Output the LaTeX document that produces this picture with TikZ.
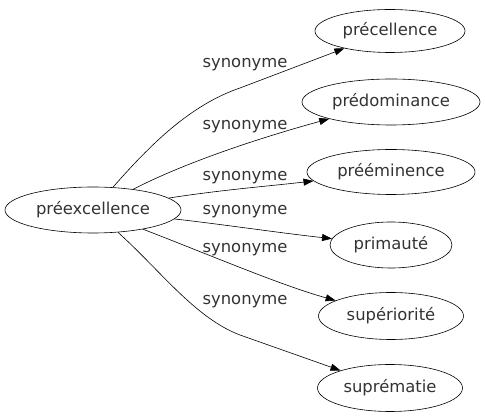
\documentclass[tikz,border=0pt]{standalone}
\usepackage{fontspec}
\setmainfont{DejaVu Sans}
\usetikzlibrary{shapes.geometric,arrows.meta}
\begin{document}
\begin{tikzpicture}[x=1pt,y=-1pt,
  word/.style={ellipse,draw,line width=0.6pt,inner sep=0pt,text=black!80,font=\fontsize{16.4}{18}\selectfont},
  lbl/.style={font=\fontsize{16.4}{18}\selectfont,text=black!80,inner sep=0pt},
  link/.style={line width=0.6pt,-{Triangle[length=10pt,width=7pt]}}]
\useasboundingbox (0,0) rectangle (485,419);
\node[word,minimum width=176pt,minimum height=46pt] (a) at (93,210) {préexcellence};
\node[word,minimum width=150pt,minimum height=43pt] (b1) at (390,31) {précellence};
\node[word,minimum width=178pt,minimum height=46pt] (b2) at (391,102) {prédominance};
\node[word,minimum width=168pt,minimum height=45pt] (b3) at (391,172) {prééminence};
\node[word,minimum width=122pt,minimum height=46pt] (b4) at (391,245) {primauté};
\node[word,minimum width=145pt,minimum height=47pt] (b5) at (391,316) {supériorité};
\node[word,minimum width=145pt,minimum height=47pt] (b6) at (390,388) {suprématie};
\node[lbl] (l1) at (245,65) {synonyme};
\node[lbl] (l2) at (245,127) {synonyme};
\node[lbl] (l3) at (245,178) {synonyme};
\node[lbl] (l4) at (245,212) {synonyme};
\node[lbl] (l5) at (245,250) {synonyme};
\node[lbl] (l6) at (245,302) {synonyme};
\draw[link] (a) .. controls (150,145) and (190,105) .. (240,88) -- (b1);
\draw[link] (a) .. controls (190,160) and (270,135) .. (b2);
\draw[link] (a) .. controls (220,190) and (270,186) .. (b3);
\draw[link] (a) .. controls (220,224) and (280,233) .. (b4);
\draw[link] (a) .. controls (210,255) and (280,285) .. (b5);
\draw[link] (a) .. controls (160,270) and (195,318) .. (240,335) -- (b6);
\end{tikzpicture}
\end{document}
